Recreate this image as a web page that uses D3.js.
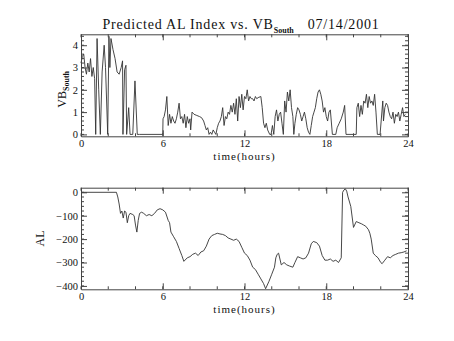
<!DOCTYPE html>
<html>
<head>
<meta charset="utf-8">
<script src="https://cdn.jsdelivr.net/npm/d3@7/dist/d3.min.js"></script>
<style>
  html, body { margin: 0; padding: 0; background: #fff; }
  svg text { font-family: "Liberation Serif", "DejaVu Serif", serif; fill: #111; }
</style>
</head>
<body>
<svg id="chart" width="454" height="341"></svg>
<script>
// Solar wind southward VB (mV/m) sampled over the day
const vbTime = [
  0.00,0.10,0.20,0.30,0.40,0.50,0.60,0.70,0.80,0.90,1.00,1.08,1.18,1.30,1.42,1.55,1.70,1.80,1.96,2.05,2.12,2.20,2.35,2.50,2.65,2.80,2.95,3.05,3.08,3.20,3.30,3.35,3.50,3.60,3.80,3.96,4.13,4.30,6.00,
  6.02,6.10,6.20,6.30,6.40,6.50,6.60,6.70,6.80,6.90,7.00,7.10,7.20,7.30,7.40,7.50,7.60,7.70,7.80,7.90,8.00,8.05,8.15,8.30,8.50,8.70,8.85,9.00,9.10,9.20,9.30,9.40,9.50,9.60,9.70,9.80,9.90,
  10.00,10.10,10.20,10.30,10.40,10.50,10.60,10.70,10.80,10.90,11.00,11.10,11.20,11.30,11.40,11.50,11.60,11.70,11.80,11.90,12.00,12.10,12.20,12.30,12.40,12.50,12.60,12.70,12.80,12.90,13.00,13.20,13.30,13.40,13.50,13.60,13.70,13.85,13.95,
  14.05,14.15,14.25,14.35,14.45,14.55,14.65,14.75,14.85,14.95,15.05,15.15,15.25,15.35,15.45,15.55,15.62,15.70,15.80,15.90,16.00,16.10,16.20,16.30,16.40,16.50,16.60,16.70,16.80,16.90,17.00,17.10,17.20,17.30,17.40,17.50,17.60,17.70,17.80,17.90,
  18.00,18.10,18.20,18.30,18.45,18.70,18.80,18.95,19.10,19.25,19.35,19.45,20.20,20.25,20.35,20.45,20.55,20.65,20.75,20.85,20.95,21.05,21.15,21.25,21.35,21.45,21.55,21.65,21.75,21.95,22.15,22.20,22.30,22.40,22.50,22.60,22.70,22.80,22.90,23.00,23.10,23.20,23.30,23.40,23.50,23.60,23.70,23.80
];
const vbSouth = [
  3.2,3.5,3.6,3.0,2.7,3.2,2.8,3.4,2.6,3.0,2.5,0.0,4.3,2.0,0.0,2.8,4.0,3.0,0.0,4.4,3.0,4.3,3.8,3.4,2.8,2.7,3.0,3.3,0.0,2.9,3.1,0.0,1.2,0.0,0.0,2.4,0.0,0.0,0.0,
  0.7,0.8,1.1,1.7,0.4,0.9,0.5,0.8,0.6,0.5,0.7,1.0,1.4,0.7,0.8,0.5,0.9,0.3,0.8,0.5,0.7,0.2,1.0,0.9,0.85,0.8,0.75,0.6,0.4,0.2,0.3,0.0,0.1,0.0,0.2,0.1,0.0,
  0.3,0.5,0.6,0.8,1.2,0.4,0.8,0.7,1.0,0.9,1.3,1.0,1.4,0.9,1.6,0.6,1.7,1.2,1.8,1.1,1.7,1.6,2.0,1.5,1.7,1.6,1.6,1.5,1.7,1.6,1.65,1.7,1.2,0.5,0.3,0.5,0.2,0.0,0.0,
  0.4,0.0,0.8,1.1,0.6,0.9,1.0,0.5,0.0,1.5,1.0,1.9,1.5,2.0,1.2,0.8,0.0,0.5,0.9,1.2,1.1,0.9,0.6,0.8,1.0,0.7,0.3,0.1,0.0,0.4,0.8,1.0,1.2,1.6,1.9,2.0,1.8,1.5,1.0,1.2,
  0.8,0.6,1.0,1.1,0.0,0.0,0.3,0.5,0.7,1.0,1.3,0.0,0.0,1.2,1.4,0.8,1.3,0.9,1.5,1.4,1.8,1.2,1.7,1.4,1.5,1.3,1.8,1.0,0.0,0.0,1.5,0.6,1.2,1.4,1.3,1.0,0.8,0.7,1.0,0.5,0.9,0.8,1.0,0.6,0.9,1.2,0.8,0.9
];

// Predicted AL index (nT)
const alTime = [
  0.0,2.6,2.7,2.8,2.9,3.0,3.1,3.2,3.3,3.4,3.5,3.6,3.8,3.9,4.0,4.1,4.2,4.3,4.45,4.6,4.8,5.0,5.2,5.4,5.6,5.8,6.0,6.2,6.4,6.5,6.6,6.8,7.0,7.2,7.4,7.55,7.8,8.0,8.2,8.4,8.6,8.8,9.0,9.2,9.4,9.6,9.8,
  10.0,10.2,10.4,10.6,10.8,11.0,11.2,11.4,11.6,11.8,12.0,12.2,12.4,12.6,12.8,13.0,13.2,13.4,13.55,13.8,14.0,14.2,14.3,14.4,14.5,14.7,14.9,15.1,15.3,15.55,15.7,15.9,16.1,16.3,16.5,16.7,16.9,17.05,17.3,17.5,17.7,17.9,
  18.1,18.3,18.5,18.7,18.9,19.05,19.1,19.2,19.3,19.4,19.5,19.6,19.8,20.0,20.2,20.4,20.6,20.75,20.9,21.1,21.2,21.3,21.45,21.6,21.8,22.0,22.1,22.3,22.5,22.7,22.9,23.1,23.3,23.5,23.7,23.9
];
const alIndex = [
  0,0,-20,-50,-90,-80,-110,-80,-85,-130,-100,-90,-95,-100,-140,-170,-120,-90,-85,-90,-100,-95,-100,-90,-75,-70,-75,-85,-120,-130,-170,-190,-210,-240,-270,-295,-280,-275,-265,-260,-270,-255,-250,-230,-200,-185,-180,
  -175,-178,-180,-185,-195,-200,-205,-200,-210,-235,-260,-270,-290,-320,-330,-350,-370,-390,-412,-380,-350,-320,-280,-265,-260,-310,-300,-310,-315,-320,-300,-275,-280,-285,-280,-260,-220,-210,-215,-230,-270,-290,
  -290,-285,-295,-290,-300,-285,-280,0,10,15,5,-20,-60,-150,-125,-130,-135,-140,-145,-160,-175,-200,-260,-270,-280,-300,-305,-290,-275,-280,-270,-265,-260,-258,-255,-250
];

const xTickVals = [0, 6, 12, 18, 24];
const vbTickVals = [0, 1, 2, 3, 4];
const alTickVals = [0, -100, -200, -300, -400];

const svg = d3.select("#chart");
const plotLeft = 81, plotRight = 408;

function drawPanel(cfg) {
  const g = svg.append("g");
  const x = d3.scaleLinear().domain([0, 24]).range([plotLeft, plotRight]);
  const y = d3.scaleLinear().domain(cfg.yDomain).range([cfg.bottom, cfg.top]);

  // data trace
  const line = d3.line().x(d => x(d[0])).y(d => y(d[1]));
  g.append("path")
    .datum(cfg.t.map((t, i) => [t, cfg.v[i]]))
    .attr("d", line)
    .attr("fill", "none")
    .attr("stroke", "#333")
    .attr("stroke-width", 0.9);

  // axes: ticks point inward on all four sides
  const xMinor = d3.range(0, 24.01, 2);
  const yMinor = d3.range(cfg.minorStart, cfg.yDomain[1], cfg.minorStep).filter(v => v >= cfg.yDomain[0]);

  const bottomAxis = d3.axisBottom(x).tickValues(xTickVals).tickSize(-6).tickPadding(3).tickFormat(d3.format("d"));
  const topAxis = d3.axisTop(x).tickValues(xTickVals).tickSize(-6).tickFormat("");
  const leftAxis = d3.axisLeft(y).tickValues(cfg.ticks).tickSize(-6).tickPadding(3).tickFormat(d3.format("d"));
  const rightAxis = d3.axisRight(y).tickValues(cfg.ticks).tickSize(-6).tickFormat("");

  const axes = [
    [bottomAxis, `translate(0,${cfg.bottom})`],
    [topAxis, `translate(0,${cfg.top})`],
    [leftAxis, `translate(${plotLeft},0)`],
    [rightAxis, `translate(${plotRight},0)`]
  ];
  axes.forEach(([ax, tr]) => {
    const a = g.append("g").attr("transform", tr).call(ax.tickSizeOuter(0));
    a.selectAll("path.domain").attr("stroke", "#444").attr("stroke-width", 1);
    a.selectAll("line").attr("stroke", "#444");
    a.selectAll("text").style("font-family", "'Liberation Serif', serif").style("font-size", "10.5px").attr("fill", "#222");
  });

  // minor ticks
  const minorX = [[cfg.bottom, -3], [cfg.top, 3]];
  minorX.forEach(([yy, len]) => {
    g.append("g").selectAll("line").data(xMinor).join("line")
      .attr("x1", d => x(d)).attr("x2", d => x(d))
      .attr("y1", yy).attr("y2", yy + len)
      .attr("stroke", "#444");
  });
  [[plotLeft, 3], [plotRight, -3]].forEach(([xx, len]) => {
    g.append("g").selectAll("line").data(yMinor).join("line")
      .attr("x1", xx).attr("x2", xx + len)
      .attr("y1", d => y(d)).attr("y2", d => y(d))
      .attr("stroke", "#444");
  });

  // x title
  g.append("text")
    .attr("x", (plotLeft + plotRight) / 2)
    .attr("y", cfg.bottom + 24)
    .attr("text-anchor", "middle")
    .style("font-size", "11px")
    .style("letter-spacing", "1px")
    .text("time(hours)");

  return { x, y, g };
}

// upper panel: VB south
const vbPanel = drawPanel({
  t: vbTime, v: vbSouth,
  top: 34.3, bottom: 136.3,
  yDomain: [-0.085, 4.49],
  ticks: vbTickVals,
  minorStart: 0, minorStep: 0.2
});

// y title with subscript
vbPanel.g.append("text")
  .attr("transform", `translate(66,${(34.3 + 136.3) / 2 + 4}) rotate(-90)`)
  .attr("text-anchor", "middle")
  .style("font-size", "12px")
  .call(t => {
    t.append("tspan").text("VB");
    t.append("tspan").attr("dy", 3).style("font-size", "8px").style("font-weight", "bold").text("South");
  });

// lower panel: AL index
const alPanel = drawPanel({
  t: alTime, v: alIndex,
  top: 187.7, bottom: 289.3,
  yDomain: [-414.5, 19.7],
  ticks: alTickVals,
  minorStart: -400, minorStep: 20
});

alPanel.g.append("text")
  .attr("transform", `translate(44,${(187.7 + 289.3) / 2}) rotate(-90)`)
  .attr("text-anchor", "middle")
  .style("font-size", "12px")
  .text("AL");

// chart title
svg.append("text")
  .attr("x", 241)
  .attr("y", 29)
  .attr("text-anchor", "middle")
  .style("font-size", "14px")
  .style("letter-spacing", "0.8px")
  .call(t => {
    t.append("tspan").text("Predicted AL Index vs. VB");
    t.append("tspan").attr("dy", 4).style("font-size", "8px").style("font-weight", "bold").style("letter-spacing", "0px").text("South");
    t.append("tspan").attr("dy", -4).attr("dx", 14).text("07/14/2001");
  });
</script>
</body>
</html>
